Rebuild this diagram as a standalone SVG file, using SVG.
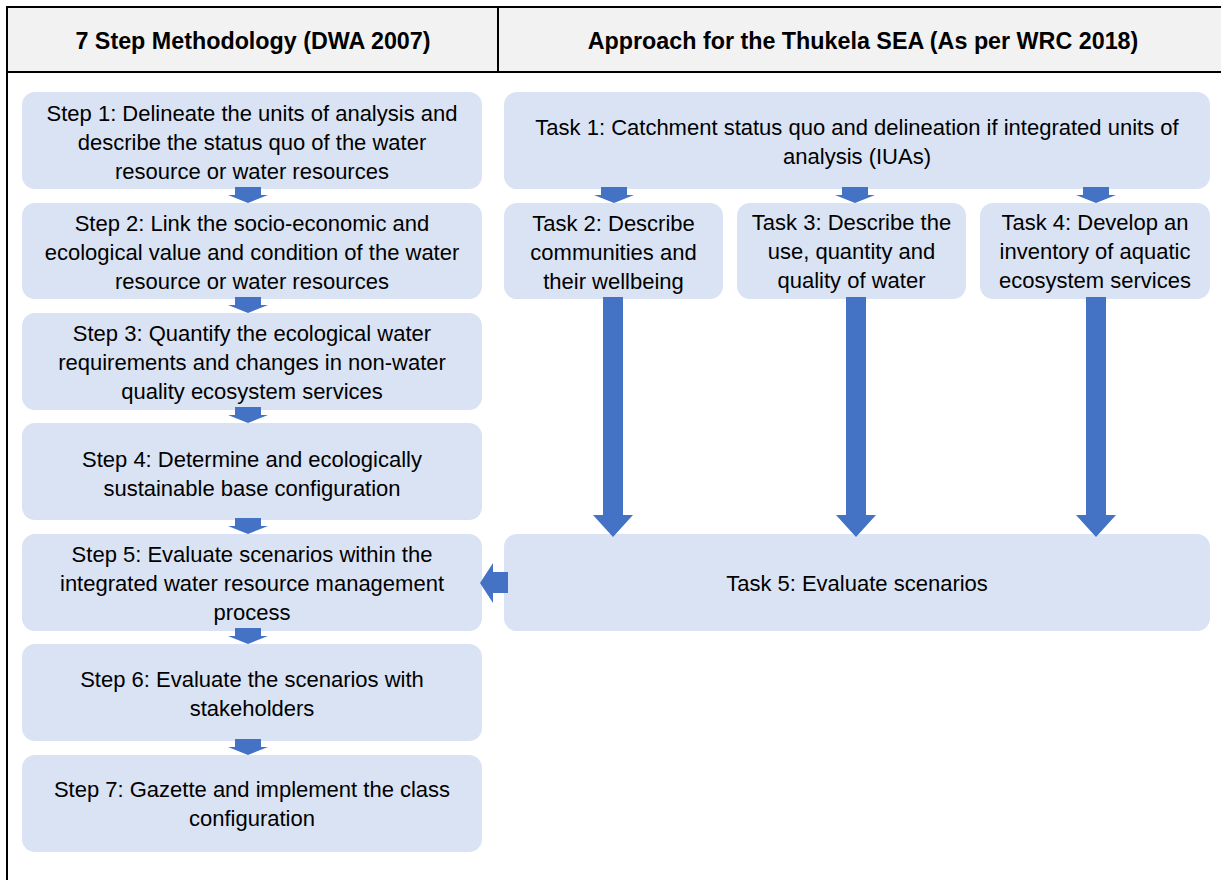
<svg xmlns="http://www.w3.org/2000/svg" width="1221" height="880" viewBox="0 0 1221 880">
  <style>
    .box { fill: #dae3f3; }
    .hdr { fill: #f2f2f2; }
    .line { stroke: #000; stroke-width: 2; fill: none; }
    .t { font-family: "Liberation Sans", Arial, sans-serif; font-size: 22px; fill: #000; text-anchor: middle; }
    .h { font-family: "Liberation Sans", Arial, sans-serif; font-size: 23.3px; font-weight: bold; fill: #000; text-anchor: middle; }
    .arr { fill: #4472c4; }
  </style>
  <defs>
    <path id="small" d="M-13,0 h26 v8 h7 L0,16 L-20,8 h7 z"/>
  </defs>
  <rect width="1221" height="880" fill="#fff"/>

  <g id="header">
    <rect class="hdr" x="7" y="7" width="1216" height="65"/>
    <line class="line" x1="7" y1="7" x2="1221" y2="7"/>
    <line class="line" x1="7" y1="72" x2="1221" y2="72"/>
    <line class="line" x1="498" y1="7" x2="498" y2="72"/>
    <line class="line" x1="7" y1="6" x2="7" y2="880"/>
    <text class="h" x="253" y="49">7 Step Methodology (DWA 2007)</text>
    <text class="h" x="863" y="49">Approach for the Thukela SEA (As per WRC 2018)</text>
  </g>

  <g id="step1">
    <rect class="box" x="22" y="92" width="460" height="97" rx="13"/>
    <text class="t" x="252" y="121">Step 1: Delineate the units of analysis and</text>
    <text class="t" x="252" y="150">describe the status quo of the water</text>
    <text class="t" x="252" y="179">resource or water resources</text>
  </g>
  <g id="step2">
    <rect class="box" x="22" y="203" width="460" height="96" rx="13"/>
    <text class="t" x="252" y="231">Step 2: Link the socio-economic and</text>
    <text class="t" x="252" y="260">ecological value and condition of the water</text>
    <text class="t" x="252" y="289">resource or water resources</text>
  </g>
  <g id="step3">
    <rect class="box" x="22" y="313" width="460" height="97" rx="13"/>
    <text class="t" x="252" y="341">Step 3: Quantify the ecological water</text>
    <text class="t" x="252" y="370">requirements and changes in non-water</text>
    <text class="t" x="252" y="399">quality ecosystem services</text>
  </g>
  <g id="step4">
    <rect class="box" x="22" y="423" width="460" height="97" rx="13"/>
    <text class="t" x="252" y="467">Step 4: Determine and ecologically</text>
    <text class="t" x="252" y="496">sustainable base configuration</text>
  </g>
  <g id="step5">
    <rect class="box" x="22" y="534" width="460" height="97" rx="13"/>
    <text class="t" x="252" y="562">Step 5: Evaluate scenarios within the</text>
    <text class="t" x="252" y="591">integrated water resource management</text>
    <text class="t" x="252" y="620">process</text>
  </g>
  <g id="step6">
    <rect class="box" x="22" y="644" width="460" height="97" rx="13"/>
    <text class="t" x="252" y="687">Step 6: Evaluate the scenarios with</text>
    <text class="t" x="252" y="716">stakeholders</text>
  </g>
  <g id="step7">
    <rect class="box" x="22" y="755" width="460" height="97" rx="13"/>
    <text class="t" x="252" y="797">Step 7: Gazette and implement the class</text>
    <text class="t" x="252" y="826">configuration</text>
  </g>

  <g id="task1">
    <rect class="box" x="504" y="92" width="706" height="97" rx="13"/>
    <text class="t" x="857" y="135">Task 1: Catchment status quo and delineation if integrated units of</text>
    <text class="t" x="857" y="164">analysis (IUAs)</text>
  </g>
  <g id="task2">
    <rect class="box" x="504" y="203" width="219" height="96" rx="13"/>
    <text class="t" x="613.5" y="231">Task 2: Describe</text>
    <text class="t" x="613.5" y="260">communities and</text>
    <text class="t" x="613.5" y="289">their wellbeing</text>
  </g>
  <g id="task3">
    <rect class="box" x="737" y="203" width="229" height="96" rx="13"/>
    <text class="t" x="851.5" y="230">Task 3: Describe the</text>
    <text class="t" x="851.5" y="259">use, quantity and</text>
    <text class="t" x="851.5" y="288">quality of water</text>
  </g>
  <g id="task4">
    <rect class="box" x="980" y="203" width="230" height="96" rx="13"/>
    <text class="t" x="1095" y="230">Task 4: Develop an</text>
    <text class="t" x="1095" y="259">inventory of aquatic</text>
    <text class="t" x="1095" y="288">ecosystem services</text>
  </g>
  <g id="task5">
    <rect class="box" x="504" y="534" width="706" height="97" rx="13"/>
    <text class="t" x="857" y="591">Task 5: Evaluate scenarios</text>
  </g>

  <g id="connectors" class="arr">
    <use href="#small" x="248" y="187"/>
    <use href="#small" x="248" y="297"/>
    <use href="#small" x="248" y="407"/>
    <use href="#small" x="248" y="518"/>
    <use href="#small" x="248" y="628"/>
    <use href="#small" x="248" y="739"/>
    <use href="#small" x="614" y="187"/>
    <use href="#small" x="855" y="187"/>
    <use href="#small" x="1096" y="187"/>
    <path d="M603,297 h20 v218 h10 L613,537 L593,515 h10 z"/>
    <path d="M846,297 h20 v218 h10 L856,537 L836,515 h10 z"/>
    <path d="M1086,297 h20 v218 h10 L1096,537 L1076,515 h10 z"/>
    <path d="M508,572 v21 h-15 v10 L480,583 L493,563 v9 z"/>
  </g>
</svg>
